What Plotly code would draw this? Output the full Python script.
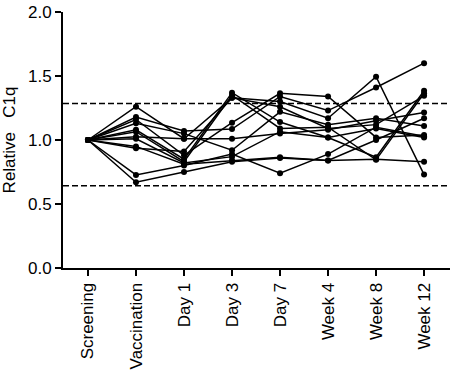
import plotly.graph_objects as go

timepoints = ["Screening", "Vaccination", "Day 1", "Day 3", "Day 7", "Week 4", "Week 8", "Week 12"]

subjects = {
    "S1":  [1.0, 1.26, 1.01, 1.33, 1.30, 1.17, 1.495, 0.73],
    "S2":  [1.0, 1.18, 1.07, 1.085, 1.34, 1.23, 1.41, 1.60],
    "S3":  [1.0, 1.16, 0.88, 1.135, 1.365, 1.34, 1.02, 1.04],
    "S4":  [1.0, 1.13, 1.05, 0.92, 1.22, 1.12, 1.17, 1.11],
    "S5":  [1.0, 1.08, 0.85, 1.37, 1.14, 1.02, 0.865, 1.385],
    "S6":  [1.0, 1.065, 0.83, 1.35, 1.09, 1.10, 0.845, 1.365],
    "S7":  [1.0, 1.025, 1.01, 1.01, 1.05, 1.08, 1.15, 1.215],
    "S8":  [1.0, 1.01, 0.82, 0.87, 1.065, 1.02, 1.09, 1.02],
    "S9":  [1.0, 0.95, 0.81, 0.84, 0.865, 0.84, 0.85, 0.83],
    "S10": [1.0, 0.935, 0.91, 1.33, 1.26, 1.09, 1.12, 1.345],
    "S11": [1.0, 0.727, 0.80, 0.89, 0.74, 0.89, 1.10, 1.03],
    "S12": [1.0, 0.67, 0.75, 0.83, 0.86, 0.84, 1.00, 1.17],
}

upper_limit = 1.285
lower_limit = 0.643

y_ticks = [0.0, 0.5, 1.0, 1.5, 2.0]
y_tick_text = ["0.0", "0.5", "1.0", "1.5", "2.0"]

fig = go.Figure()
for name, vals in subjects.items():
    fig.add_trace(go.Scatter(
        x=timepoints, y=vals, mode="lines+markers", name=name,
        line=dict(color="black", width=1.5),
        marker=dict(color="black", size=6),
        showlegend=False, cliponaxis=False,
    ))

for lim in (upper_limit, lower_limit):
    fig.add_shape(type="line", xref="paper", x0=0, x1=1, yref="y", y0=lim, y1=lim,
                  line=dict(color="black", width=1.5, dash="6px,3px"))

font_family = "Liberation Sans, Arial, sans-serif"
fig.update_layout(
    width=453, height=373,
    margin=dict(l=63, r=3, t=12, b=105),
    plot_bgcolor="white", paper_bgcolor="white",
    font=dict(family=font_family, size=16, color="black"),
    xaxis=dict(
        type="category", categoryorder="array", categoryarray=timepoints,
        range=[-0.52, 7.54], showline=True, linecolor="black", linewidth=2,
        ticks="outside", ticklen=6, tickwidth=2, tickcolor="black",
        tickangle=-90, showgrid=False, zeroline=False, automargin=False,
        tickfont=dict(size=17), ticklabeloverflow="allow",
    ),
    yaxis=dict(
        range=[0, 2], tickvals=y_ticks, ticktext=y_tick_text,
        showline=True, linecolor="black", linewidth=2,
        ticks="outside", ticklen=6, tickwidth=2, tickcolor="black",
        showgrid=False, zeroline=False, automargin=False,
        ticklabeloverflow="allow",
        title=dict(text="Relative\u00a0\u00a0\u00a0C1q", font=dict(size=17), standoff=19),
        tickfont=dict(size=17),
    ),
)

fig.write_html(
    "out.html",
    config={"displayModeBar": False},
    post_script="document.body.style.margin='0';document.body.style.overflow='hidden';",
)
